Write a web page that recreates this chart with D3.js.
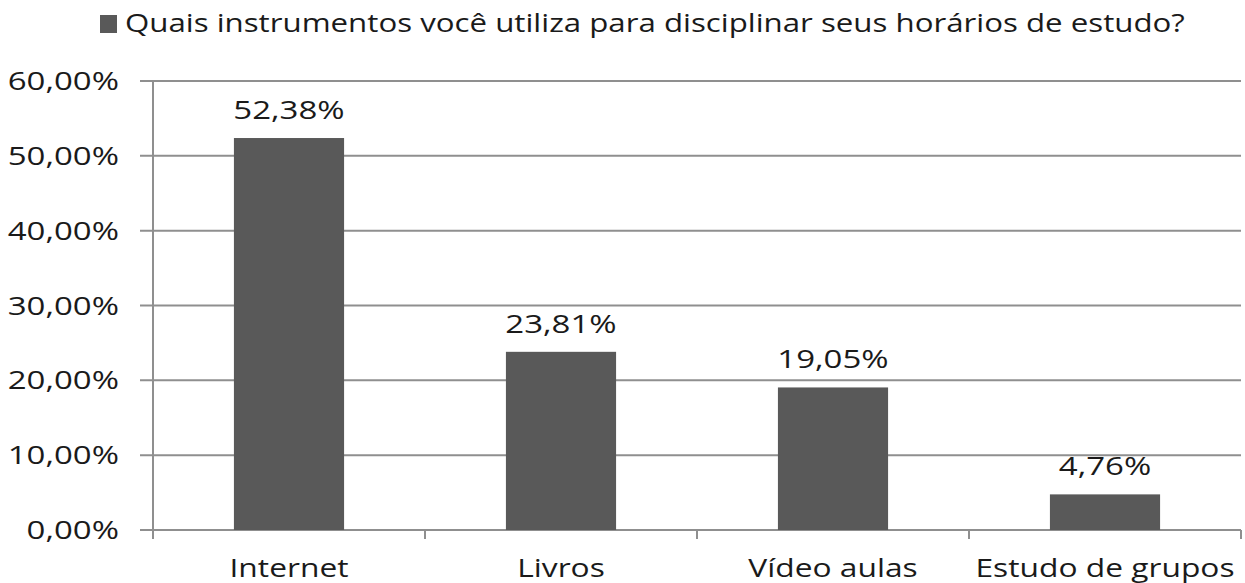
<!DOCTYPE html>
<html>
<head>
<meta charset="utf-8">
<script src="https://cdn.jsdelivr.net/npm/d3@7"></script>
<style>
  body { margin: 0; background: #fff; }
  svg text { font-family: "Open Sans", sans-serif; fill: #1a1a1a; }
</style>
</head>
<body>
<svg id="chart"></svg>
<script>
// data
const categories = ["Internet", "Livros", "Vídeo aulas", "Estudo de grupos"];
const values = [52.38, 23.81, 19.05, 4.76];
const yTicks = [0, 10, 20, 30, 40, 50, 60];
const legendLabel = "Quais instrumentos você utiliza para disciplinar seus horários de estudo?";

/***********************
 * dimensions
 ************************/
const width = 1245, height = 583;
const margin = { top: 81, right: 4, bottom: 53, left: 153 };
const barColor = "#595959";
const gridColor = "#8f8f8f";
const stretch = 1.27; // the source picture is stretched horizontally

const svg = d3.select("#chart")
  .attr("width", width)
  .attr("height", height)
  .attr("viewBox", [0, 0, width, height]);

const x = d3.scaleBand()
  .domain(categories)
  .range([margin.left, width - margin.right])
  .padding(0);

const y = d3.scaleLinear()
  .domain([0, 60])
  .range([height - margin.bottom, margin.top]);

const fmt = v => d3.format(".2f")(v).replace(".", ",") + "%";

// stretched text helper
function sText(g, tx, ty, str, anchor, size) {
  return g.append("text")
    .attr("transform", `translate(${tx},${ty}) scale(${stretch},1)`)
    .attr("text-anchor", anchor)
    .attr("font-size", size)
    .text(str);
}

// gridlines + y ticks
svg.append("g").selectAll("line")
  .data(yTicks)
  .join("line")
  .attr("x1", margin.left - 13)
  .attr("x2", width - margin.right)
  .attr("y1", d => y(d))
  .attr("y2", d => y(d))
  .attr("stroke", gridColor)
  .attr("stroke-width", 2);

yTicks.forEach(t => sText(svg, margin.left - 34, y(t) + 9, fmt(t), "end", 26));

// y axis line
svg.append("line")
  .attr("x1", margin.left).attr("x2", margin.left)
  .attr("y1", margin.top).attr("y2", y(0) + 9)
  .attr("stroke", gridColor).attr("stroke-width", 2);

// x ticks at band boundaries
const boundaries = categories.map(c => x(c)).concat([x.range()[1]]);
svg.append("g").selectAll("line")
  .data(boundaries)
  .join("line")
  .attr("x1", d => d).attr("x2", d => d)
  .attr("y1", y(0)).attr("y2", y(0) + 9)
  .attr("stroke", gridColor).attr("stroke-width", 2);

// bars
const bw = x.bandwidth() * 0.405;
svg.append("g").selectAll("rect")
  .data(values)
  .join("rect")
  .attr("x", (d, i) => x(categories[i]) + (x.bandwidth() - bw) / 2)
  .attr("y", d => y(d))
  .attr("width", bw)
  .attr("height", d => y(0) - y(d))
  .attr("fill", barColor);

// value labels
values.forEach((v, i) =>
  sText(svg, x(categories[i]) + x.bandwidth() / 2, y(v) - 19, fmt(v), "middle", 26));

// category labels
categories.forEach(c =>
  sText(svg, x(c) + x.bandwidth() / 2, 577, c, "middle", 25));

// legend
svg.append("rect")
  .attr("x", 100).attr("y", 15)
  .attr("width", 17).attr("height", 18)
  .attr("fill", barColor);
sText(svg, 125, 32, legendLabel, "start", 24.6);
</script>
</body>
</html>
